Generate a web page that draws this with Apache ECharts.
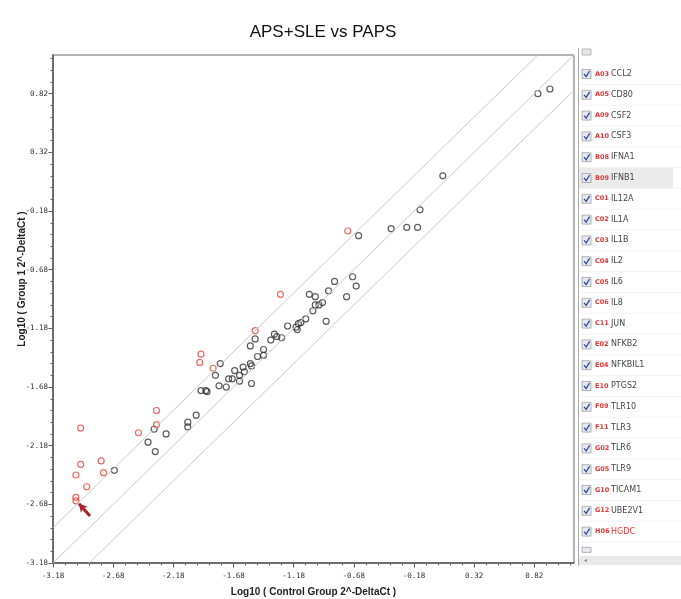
<!DOCTYPE html>
<html>
<head>
<meta charset="utf-8">
<script src="https://cdn.jsdelivr.net/npm/echarts@6/dist/echarts.min.js"></script>
<style>html,body{margin:0;padding:0;background:#fff;}#c{width:681px;height:599px;}</style>
</head>
<body>
<div id="c"></div>
<script>
// ---- data (log10 of 2^-DeltaCt) ----
const blackX = [0.85,0.95,0.06,-0.13,-0.37,-0.24,-0.15,-0.64,-0.69,-0.66,-0.74,-0.84,-0.89,-1.05,-1.00,-0.94,-0.97,-1.00,-1.02,-0.91,-1.08,-1.12,-1.14,-1.16,-1.15,-1.23,-1.34,-1.32,-1.28,-1.37,-1.50,-1.54,-1.43,-1.48,-1.43,-1.54,-1.53,-1.60,-1.59,-1.63,-1.67,-1.72,-1.69,-1.63,-1.53,-1.79,-1.83,-1.80,-1.74,-1.95,-1.91,-1.90,-1.99,-2.06,-2.06,-2.24,-2.34,-2.39,-2.33,-2.67];
const blackY = [0.82,0.86,0.12,-0.17,-0.33,-0.32,-0.32,-0.39,-0.74,-0.82,-0.91,-0.78,-0.86,-0.89,-0.91,-0.96,-0.98,-0.98,-1.03,-1.12,-1.10,-1.13,-1.14,-1.17,-1.19,-1.16,-1.23,-1.25,-1.26,-1.28,-1.27,-1.33,-1.36,-1.42,-1.41,-1.48,-1.50,-1.51,-1.55,-1.58,-1.54,-1.61,-1.61,-1.63,-1.65,-1.48,-1.58,-1.67,-1.68,-1.71,-1.71,-1.72,-1.92,-1.98,-2.02,-2.08,-2.04,-2.15,-2.23,-2.39];
const redX = [-0.73,-1.29,-1.50,-1.85,-1.96,-1.95,-2.32,-2.32,-2.47,-2.95,-2.95,-2.78,-2.99,-2.76,-2.90,-2.99,-2.99];
const redY = [-0.35,-0.89,-1.20,-1.52,-1.47,-1.40,-1.88,-2.00,-2.07,-2.03,-2.34,-2.31,-2.43,-2.41,-2.53,-2.62,-2.65];
const foldOffsets = [0.301, 0, -0.301];
const axisMin = -3.18, axisMax = 1.15;
const majorTicks = [-3.18,-2.68,-2.18,-1.68,-1.18,-0.68,-0.18,0.32,0.82];
const arrowFrom = [-2.873, -2.78];
const arrowTo = [-2.964, -2.675];
const geneCodes = ['A03','A05','A09','A10','B08','B09','C01','C02','C03','C04','C05','C06','C11','E02','E04','E10','F09','F11','G02','G05','G10','G12','H06'];
const geneNames = ['CCL2','CD80','CSF2','CSF3','IFNA1','IFNB1','IL12A','IL1A','IL1B','IL2','IL6','IL8','JUN','NFKB2','NFKBIL1','PTGS2','TLR10','TLR3','TLR6','TLR9','TICAM1','UBE2V1','HGDC'];
const redNames = ['HGDC'];
const highlighted = 'B09';

// minor tick positions every 0.1
const minorTicks = [];
for (let v = axisMin; v <= axisMax + 1e-9; v += 0.1) minorTicks.push(Math.round(v * 100) / 100);

const blackData = blackX.map((x, i) => [x, blackY[i]]);
const redData = redX.map((x, i) => [x, redY[i]]);

const labelFont = { fontFamily: 'DejaVu Sans Mono', fontSize: 7.5, color: '#333' };
const nameFont = { fontFamily: 'Liberation Sans', fontSize: 10, fontWeight: 'bold', color: '#222' };

function mainAxis(isX) {
  return {
    type: 'value', min: axisMin, max: axisMax,
    position: isX ? 'bottom' : 'left',
    name: isX ? 'Log10 ( Control Group 2^-DeltaCt )' : 'Log10 ( Group 1 2^-DeltaCt )',
    nameLocation: 'middle',
    nameMoveOverlap: false,
    nameGap: isX ? 24 : 26,
    nameTextStyle: isX ? nameFont : Object.assign({}, nameFont, { padding: [0, 0, 0, 60] }),
    axisLine: { show: true, onZero: false, lineStyle: { color: '#555', width: 1.5 } },
    axisTick: { show: true, customValues: majorTicks, length: 4.5, lineStyle: { color: '#555' } },
    axisLabel: Object.assign({ customValues: majorTicks, margin: isX ? 9 : 5, formatter: v => v.toFixed(2) }, labelFont),
    splitLine: { show: false }
  };
}
function minorAxis(isX) {
  return {
    type: 'value', min: axisMin, max: axisMax,
    position: isX ? 'bottom' : 'left',
    axisLine: { show: false, onZero: false },
    axisTick: { show: true, customValues: minorTicks, length: 2.5, lineStyle: { color: '#666' } },
    axisLabel: { show: false },
    splitLine: { show: false }
  };
}

// legend panel graphics
const rowY0 = 74, rowH = 20.8;
const gfx = [];
gfx.push({ type: 'rect', shape: { x: 579, y: rowY0 + geneCodes.indexOf(highlighted) * rowH - 10, width: 94, height: 20 }, style: { fill: '#ebebeb' } });
gfx.push({ type: 'line', shape: { x1: 578.5, y1: 48, x2: 578.5, y2: 566 }, style: { stroke: '#aaa', lineWidth: 1 } });
gfx.push({ type: 'rect', shape: { x: 582, y: 49, width: 9, height: 6 }, style: { fill: '#e6e6ea', stroke: '#aaa', lineWidth: 0.8 } });
geneCodes.forEach((code, i) => {
  const y = rowY0 + i * rowH;
  gfx.push({ type: 'line', shape: { x1: 579, y1: y + 10.4, x2: 681, y2: y + 10.4 }, style: { stroke: '#f2f2f2', lineWidth: 1 } });
  gfx.push({ type: 'rect', shape: { x: 582, y: y - 4.5, width: 9, height: 9 }, style: { fill: '#e8e8ee', stroke: '#a0a0a8', lineWidth: 0.8 } });
  gfx.push({ type: 'polyline', shape: { points: [[584, y], [586.2, y + 2.6], [589.6, y - 3]] }, style: { stroke: '#2d4fa0', lineWidth: 1.3, fill: null } });
  gfx.push({ type: 'text', x: 595, y: y, style: { text: code, fill: '#e0393a', font: 'bold 6.5px "DejaVu Sans"', textVerticalAlign: 'middle' } });
  gfx.push({ type: 'text', x: 611, y: y, style: { text: geneNames[i], fill: redNames.includes(geneNames[i]) ? '#e0393a' : '#444', font: '8px "DejaVu Sans"', textVerticalAlign: 'middle' } });
});
gfx.push({ type: 'rect', shape: { x: 582, y: rowY0 + geneCodes.length * rowH - 5, width: 9, height: 5 }, style: { fill: '#e8e8ee', stroke: '#a0a0a8', lineWidth: 0.8 } });
gfx.push({ type: 'rect', shape: { x: 579, y: 556, width: 102, height: 9 }, style: { fill: '#e9e9e9' } });
gfx.push({ type: 'text', x: 584, y: 560.5, style: { text: '◂', fill: '#888', font: '6px "DejaVu Sans"', textVerticalAlign: 'middle' } });

const chart = echarts.init(document.getElementById('c'), null, { renderer: 'canvas' });
chart.setOption({
  animation: false,
  backgroundColor: '#fff',
  title: {
    text: 'APS+SLE vs PAPS', left: 318, top: 19, textAlign: 'center',
    textStyle: { fontFamily: 'Liberation Sans', fontSize: 17, fontWeight: 'normal', color: '#111' }
  },
  grid: { left: 53, top: 55, right: 107, bottom: 36, outerBoundsMode: 'none', containLabel: false, show: true, borderColor: '#666', borderWidth: 1, backgroundColor: '#fff' },
  xAxis: [mainAxis(true), minorAxis(true)],
  yAxis: [mainAxis(false), minorAxis(false)],
  series: [
    ...foldOffsets.map(off => ({
      type: 'line', xAxisIndex: 0, yAxisIndex: 0, clip: true, silent: true, symbol: 'none',
      data: [[axisMin, axisMin + off], [axisMax, axisMax + off]],
      lineStyle: { color: '#c9c9c9', width: 1 }
    })),
    {
      type: 'scatter', xAxisIndex: 0, yAxisIndex: 0, data: blackData, symbol: 'circle', symbolSize: 6,
      itemStyle: { color: 'rgba(0,0,0,0)', borderColor: '#333', borderWidth: 1.2 }
    },
    {
      type: 'scatter', xAxisIndex: 0, yAxisIndex: 0, data: redData, symbol: 'circle', symbolSize: 6,
      itemStyle: { color: 'rgba(0,0,0,0)', borderColor: '#e8453c', borderWidth: 1.2 },
      markLine: {
        silent: true, symbol: ['none', 'arrow'], symbolSize: [7, 8],
        label: { show: false },
        lineStyle: { color: '#b01e28', width: 3, type: 'solid' },
        data: [[{ coord: arrowFrom }, { coord: arrowTo }]]
      }
    }
  ],
  graphic: gfx
});
</script>
</body>
</html>
